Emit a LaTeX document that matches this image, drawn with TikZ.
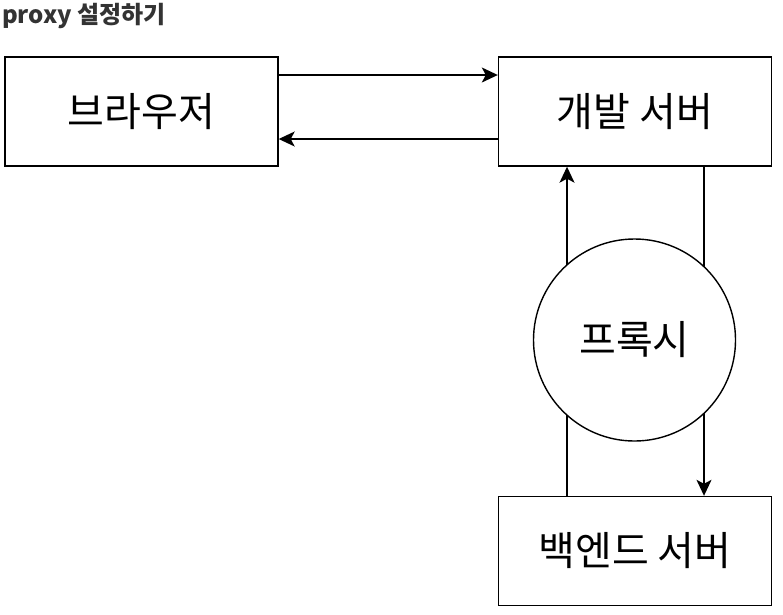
\documentclass[tikz,border=0pt]{standalone}
\usepackage{fontspec}
\setmainfont{Noto Sans CJK KR}
\usetikzlibrary{arrows.meta}
\definecolor{titlegray}{HTML}{333333}
\tikzset{
	box/.style={draw, line width=1.4pt, minimum width=273pt, minimum height=109pt, inner sep=0pt, font=\fontsize{40}{44}\selectfont},
	flow/.style={line width=1.4pt, -{Stealth[length=16pt,width=15pt,inset=4pt]}}
}
\begin{document}
\begin{tikzpicture}[x=1pt,y=-1pt]
		\useasboundingbox (0,0) rectangle (783,614);
		\node[anchor=west, text=titlegray, font=\fontsize{24}{28}\selectfont\bfseries, inner sep=0pt] (title) at (2,16) {proxy 설정하기};
		\node[box] (brow) at (141.5,111.5) {브라우저};
		\node[box] (dev) at (635,111.5) {개발 서버};
		\node[box] (back) at (635,551) {백엔드 서버};
		\draw[flow] (brow.east |- 0,75) -- (dev.west |- 0,75);
		\draw[flow] (dev.west |- 0,139) -- (brow.east |- 0,139);
		\draw[flow] (back.north -| 567,0) -- (dev.south -| 567,0);
		\draw[flow] (dev.south -| 704,0) -- (back.north -| 704,0);
		\node[draw, circle, fill=white, line width=1.4pt, minimum size=202pt, inner sep=0pt, font=\fontsize{40}{44}\selectfont] (prox) at (634.5,340) {프록시};
	\end{tikzpicture}
\end{document}
